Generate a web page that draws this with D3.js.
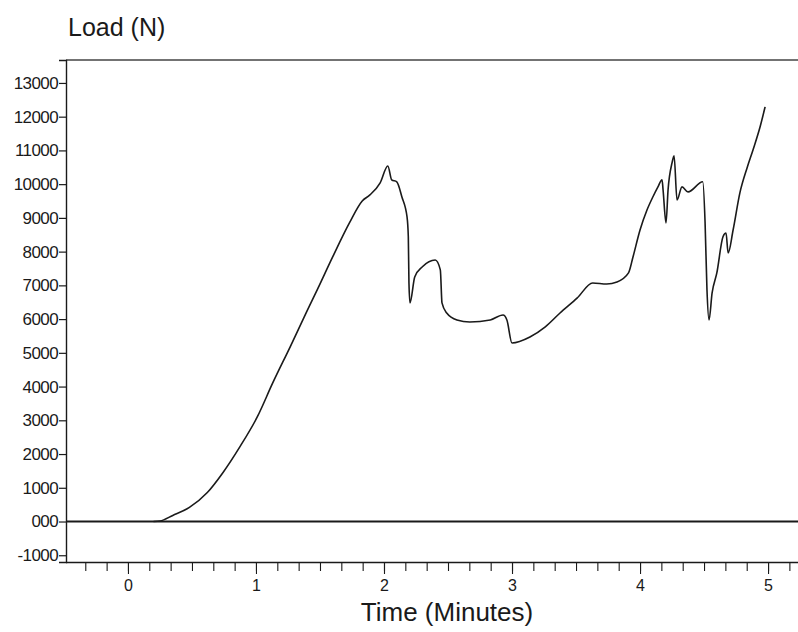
<!DOCTYPE html>
<html>
<head>
<meta charset="utf-8">
<script src="https://cdn.jsdelivr.net/npm/d3@7"></script>
<style>
  html, body { margin: 0; padding: 0; background: #fff; }
  svg { display: block; font-family: "Liberation Sans", Arial, sans-serif; }
</style>
</head>
<body>
<svg id="chart" width="798" height="632"></svg>
<script>
// ---- data ----
const timeMinutes = [0.20, 0.25, 0.35, 0.48, 0.62, 0.74, 0.875, 1.01, 1.13, 1.27, 1.40, 1.48, 1.60, 1.73, 1.83, 1.89, 1.97, 2.03, 2.06, 2.10, 2.14, 2.18, 2.19, 2.195, 2.203, 2.24, 2.30, 2.40, 2.44, 2.453, 2.49, 2.57, 2.67, 2.83, 2.93, 2.96, 3.00, 3.14, 3.26, 3.375, 3.51, 3.63, 3.74, 3.82, 3.91, 3.945, 4.00, 4.055, 4.10, 4.14, 4.172, 4.18, 4.203, 4.219, 4.25, 4.266, 4.289, 4.328, 4.375, 4.49, 4.508, 4.523, 4.539, 4.563, 4.60, 4.648, 4.672, 4.688, 4.727, 4.78, 4.836, 4.883, 4.938, 4.977];
const loadN = [0, 15, 180, 420, 860, 1440, 2220, 3100, 4100, 5200, 6250, 6880, 7850, 8850, 9500, 9680, 10040, 10540, 10130, 10070, 9620, 9030, 8440, 7070, 6480, 7250, 7550, 7750, 7460, 6480, 6180, 5975, 5915, 5975, 6120, 5975, 5290, 5470, 5770, 6180, 6630, 7070, 7040, 7100, 7370, 7840, 8640, 9240, 9620, 9920, 10130, 9830, 8850, 9830, 10630, 10840, 9530, 9920, 9770, 10070, 8880, 6860, 5975, 6775, 7370, 8440, 8550, 7960, 8640, 9740, 10480, 11020, 11700, 12290];
const yTickValues = [-1000, 0, 1000, 2000, 3000, 4000, 5000, 6000, 7000, 8000, 9000, 10000, 11000, 12000, 13000];
const xMajorTicks = [0, 1, 2, 3, 4, 5];
const yTitle = "Load (N)";
const xTitle = "Time (Minutes)";

(function () {
  // ---- layout ----
  const svg = d3.select("#chart");
  const padL = 66, padR = 798, padT = 60, padB = 562;

  const x = d3.scaleLinear().domain([-0.484, 5.234]).range([padL, padR]);
  const y = d3.scaleLinear().domain([-1200, 13680]).range([padB, padT]);

  const ink = "#1a1a1a";

  // top frame line
  svg.append("line").attr("x1", padL).attr("x2", padR).attr("y1", padT).attr("y2", padT)
    .attr("stroke", "#444").attr("stroke-width", 1.3);

  // y axis
  const yAxis = d3.axisLeft(y)
    .tickValues(yTickValues)
    .tickSize(7)
    .tickPadding(1)
    .tickFormat(d => d === 0 ? "000" : String(d));
  const gy = svg.append("g").attr("transform", `translate(${padL},0)`).call(yAxis);
  gy.select(".domain").attr("stroke", ink).attr("stroke-width", 1.4);
  gy.selectAll(".tick line").attr("stroke", ink).attr("stroke-width", 1.2);
  gy.selectAll(".tick text")
    .attr("fill", ink)
    .style("font-size", "17px")
    .style("letter-spacing", "-0.6px")
    .style("font-family", "'Liberation Sans', Arial, sans-serif");

  // x axis: minor ticks every 10 s, labels on whole minutes
  const minorTicks = d3.range(-2, 32).map(k => k / 6);
  const xAxisMinor = d3.axisBottom(x).tickValues(minorTicks).tickSize(9).tickFormat("");
  const gxm = svg.append("g").attr("transform", `translate(0,${padB})`).call(xAxisMinor);
  gxm.select(".domain").attr("stroke", ink).attr("stroke-width", 1.3).attr("d", `M${padL},0.5H${padR}`);
  gxm.selectAll(".tick line").attr("stroke", ink).attr("stroke-width", 1.1);

  const xAxisMajor = d3.axisBottom(x).tickValues(xMajorTicks).tickSize(12).tickPadding(6).tickFormat(d3.format("d"));
  const gxM = svg.append("g").attr("transform", `translate(0,${padB})`).call(xAxisMajor);
  gxM.select(".domain").remove();
  gxM.selectAll(".tick line").attr("stroke", ink).attr("stroke-width", 1.1);
  gxM.selectAll(".tick text")
    .attr("fill", ink)
    .style("font-size", "16px")
    .style("font-family", "'Liberation Sans', Arial, sans-serif");

  // zero baseline
  svg.append("line")
    .attr("x1", padL).attr("x2", padR)
    .attr("y1", y(0)).attr("y2", y(0))
    .attr("stroke", ink).attr("stroke-width", 2);

  // data curve
  const pts = timeMinutes.map((t, i) => [t, loadN[i]]);
  const line = d3.line().x(d => x(d[0])).y(d => y(d[1])).curve(d3.curveMonotoneX);
  svg.append("path")
    .datum(pts)
    .attr("d", line)
    .attr("fill", "none")
    .attr("stroke", ink)
    .attr("stroke-width", 1.6)
    .attr("stroke-linejoin", "round");

  // titles
  svg.append("text")
    .attr("x", 68).attr("y", 36)
    .attr("fill", ink)
    .style("font-size", "25px")
    .text(yTitle);

  svg.append("text")
    .attr("x", 447).attr("y", 621)
    .attr("text-anchor", "middle")
    .attr("fill", ink)
    .style("font-size", "26px")
    .text(xTitle);
})();
</script>
</body>
</html>
